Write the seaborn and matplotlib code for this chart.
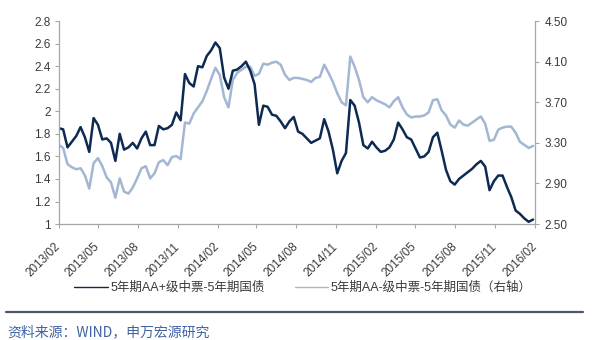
import matplotlib
matplotlib.use("Agg")
import matplotlib.pyplot as plt
import matplotlib.dates as mdates
from matplotlib.lines import Line2D
import numpy as np
import pandas as pd
import seaborn as sns

# Observation dates (every 10 days)
dates = pd.date_range("2013-02-01", periods=110, freq="10D")

# 5年期AA+级中票-5年期国债 (left axis)
spread_aa_plus = [
    1.85, 1.84, 1.68, 1.73, 1.78, 1.86, 1.77, 1.64, 1.94, 1.88,
    1.75, 1.76, 1.72, 1.56, 1.80, 1.66, 1.68, 1.72, 1.67, 1.76,
    1.82, 1.70, 1.70, 1.87, 1.84, 1.85, 1.88, 1.99, 1.92, 2.33,
    2.25, 2.22, 2.40, 2.39, 2.49, 2.54, 2.61, 2.56, 2.30, 2.20,
    2.36, 2.37, 2.40, 2.44, 2.36, 2.24, 1.88, 2.05, 2.04, 1.97,
    1.96, 1.91, 1.85, 1.91, 1.95, 1.82, 1.80, 1.76, 1.72, 1.74,
    1.76, 1.93, 1.82, 1.66, 1.45, 1.56, 1.63, 2.10, 2.05, 1.90,
    1.70, 1.67, 1.73, 1.68, 1.64, 1.65, 1.68, 1.75, 1.90, 1.84,
    1.77, 1.75, 1.67, 1.59, 1.60, 1.64, 1.77, 1.81, 1.65, 1.48,
    1.38, 1.35, 1.40, 1.43, 1.46, 1.49, 1.53, 1.56, 1.51, 1.30,
    1.38, 1.43, 1.43, 1.33, 1.24, 1.12, 1.09, 1.05, 1.02, 1.04,
]

# 5年期AA-级中票-5年期国债 (right axis)
spread_aa_minus = [
    3.28, 3.25, 3.09, 3.06, 3.04, 3.05, 2.98, 2.85, 3.10, 3.15,
    3.07, 2.96, 2.91, 2.76, 2.95, 2.82, 2.80, 2.86, 2.95, 3.05,
    3.07, 2.95, 3.00, 3.11, 3.13, 3.08, 3.16, 3.17, 3.14, 3.50,
    3.49, 3.59, 3.65, 3.71, 3.81, 3.93, 4.04, 3.97, 3.75, 3.65,
    3.92, 3.99, 4.02, 4.05, 4.05, 3.96, 3.98, 4.08, 4.07, 4.09,
    4.10, 4.07, 3.97, 3.92, 3.94, 3.94, 3.93, 3.92, 3.90, 3.94,
    3.95, 4.07, 3.99, 3.90, 3.79, 3.70, 3.67, 4.15, 4.05, 3.92,
    3.75, 3.70, 3.75, 3.72, 3.70, 3.68, 3.65, 3.71, 3.75, 3.65,
    3.58, 3.55, 3.56, 3.56, 3.57, 3.60, 3.72, 3.73, 3.62, 3.57,
    3.48, 3.45, 3.52, 3.48, 3.47, 3.50, 3.53, 3.56, 3.49, 3.32,
    3.33, 3.43, 3.45, 3.46, 3.46, 3.40, 3.31, 3.28, 3.25, 3.27,
]

left_ticks = [1, 1.2, 1.4, 1.6, 1.8, 2, 2.2, 2.4, 2.6, 2.8]
right_ticks = [2.50, 2.90, 3.30, 3.70, 4.10, 4.50]
label_aa_plus = "5年期AA+级中票-5年期国债"
label_aa_minus = "5年期AA-级中票-5年期国债（右轴）"
source_text = "资料来源：WIND，申万宏源研究"

sns.set_theme(style="white")
plt.rcParams["font.family"] = ["Liberation Sans", "Noto Sans CJK SC", "DejaVu Sans"]

dark = "#0e2a52"
light = "#a3b6d3"
axis_grey = "#a6a6a6"
text_grey = "#3a3a3a"

df = pd.DataFrame({"date": dates, "aa_plus": spread_aa_plus, "aa_minus": spread_aa_minus})

fig = plt.figure(figsize=(6.0, 3.4), dpi=100)
ax = fig.add_axes([0.098, 0.341, 0.794, 0.597])
ax2 = ax.twinx()

sns.lineplot(data=df, x="date", y="aa_minus", ax=ax2, color=light, linewidth=1.8)
sns.lineplot(data=df, x="date", y="aa_plus", ax=ax, color=dark, linewidth=1.8)
ax.set_zorder(ax2.get_zorder() + 1)
ax.patch.set_visible(False)

ax.set_ylim(1, 2.8)
ax.set_yticks(left_ticks)
ax.set_yticklabels([f"{v:g}" for v in left_ticks])
ax2.set_ylim(2.5, 4.5)
ax2.set_yticks(right_ticks)
ax2.set_yticklabels([f"{v:.2f}" for v in right_ticks])

ax.set_xlim(pd.Timestamp("2013-02-01"), pd.Timestamp("2016-02-01"))
ax.xaxis.set_major_locator(mdates.MonthLocator(bymonth=[2, 5, 8, 11]))
ax.xaxis.set_major_formatter(mdates.DateFormatter("%Y/%m"))

for a in (ax, ax2):
    a.set_xlabel("")
    a.set_ylabel("")
    a.grid(False)
    for side, sp in a.spines.items():
        sp.set_color(axis_grey)
        sp.set_linewidth(0.9)
    a.spines["top"].set_visible(False)

ax.spines["right"].set_visible(False)
ax2.spines["left"].set_visible(False)
ax2.spines["bottom"].set_visible(False)

ax.tick_params(axis="y", direction="out", length=3, width=0.8, color=axis_grey,
               labelsize=8.5, labelcolor=text_grey, pad=3, left=True)
ax2.tick_params(axis="y", direction="out", length=3, width=0.8, color=axis_grey,
                labelsize=8.5, labelcolor=text_grey, pad=4, right=True)
ax.tick_params(axis="x", direction="out", length=3, width=0.8, color=axis_grey,
               labelsize=8.5, labelcolor=text_grey, pad=12, bottom=True)
for lbl in ax.get_xticklabels():
    lbl.set_rotation(45)
    lbl.set_ha("right")
    lbl.set_va("center")
    lbl.set_rotation_mode("anchor")

handles = [
    Line2D([], [], color=dark, linewidth=1.0),
    Line2D([], [], color=light, linewidth=1.0),
]
fig.legend(handles, [label_aa_plus, label_aa_minus], loc="center",
           bbox_to_anchor=(0.505, 1 - 288 / 340), ncol=2, frameon=False,
           fontsize=9, handlelength=2.7, handletextpad=0.2, columnspacing=2.4,
           labelcolor=text_grey)

fig.add_artist(Line2D([6 / 600, 583 / 600], [1 - 312 / 340, 1 - 312 / 340],
                      color="#50566a", linewidth=1.6, transform=fig.transFigure))
fig.text(7 / 600, 1 - 332 / 340, source_text, fontsize=10, color="#3f62a3",
         ha="left", va="center", family=["Noto Sans CJK SC", "DejaVu Sans"])

fig.savefig("out.png", dpi=100, facecolor="white")
